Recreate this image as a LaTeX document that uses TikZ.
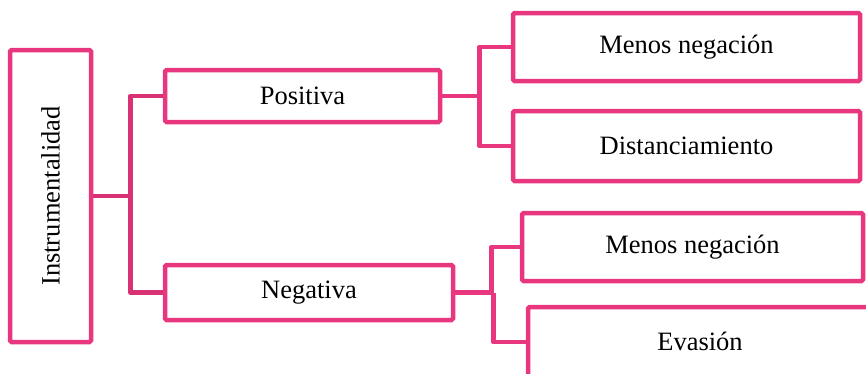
\documentclass[tikz,border=0pt]{standalone}
\usepackage{fontspec}
\usepackage{graphicx}
\setmainfont{Liberation Serif}
\definecolor{pinkbox}{HTML}{E8377F}
\definecolor{pinkline}{HTML}{D93274}
\tikzset{
  box/.style={draw=pinkbox, line width=4.5pt, rounded corners=1.5pt, fill=white,
    inner sep=0pt, font=\fontsize{26.5}{30}\selectfont},
  conn/.style={draw=pinkline, line width=4.5pt, line join=round},
  conn2/.style={draw=pinkbox, line width=4.5pt, line join=round},
  lbl/.style={inner sep=0pt, font=\fontsize{26.5}{30}\selectfont}
}
\begin{document}
\begin{tikzpicture}[x=1pt,y=-1pt]
\useasboundingbox (0,0) rectangle (866,373);
\clip (0,0) rectangle (866,373);
\node[box, minimum width=81pt, minimum height=292pt] (inst) at (50.5,196) {\rotatebox{90}{Instrumentalidad}};
\node[box, minimum width=275pt, minimum height=52pt] (pos) at (302.5,96) {Positiva};
\node[box, minimum width=288pt, minimum height=55pt] (neg) at (309,292.5) {Negativa};
\node[box, minimum width=347pt, minimum height=68pt] (mn1) at (686.5,47) {Menos negación};
\node[box, minimum width=347pt, minimum height=70pt] (dist) at (686.5,146) {Distanciamiento};
\node[box, minimum width=341pt, minimum height=68pt] (mn2) at (692.5,247) {Menos negación};
\node[box, minimum width=372pt, minimum height=93pt] (eva) at (714,353.5) {};
\node[lbl] (evat) at (700,341) {Evasión};
\coordinate (ea) at (528,342);
% connectors
\draw[conn] (inst.east) -- ++(37,0) coordinate (j1);
\draw[conn] (pos.west) -| (j1) |- (neg.west);
\draw[conn2] (pos.east) -- ++(37,0) coordinate (j2);
\draw[conn2] (mn1.west) -| (j2) |- (dist.west);
\draw[conn2] (neg.east) -- ++(36,0) coordinate (j3);
\draw[conn2] (mn2.west) -| (j3);
\draw[conn2] (j3) ++(2,0) |- (ea);
\end{tikzpicture}
\end{document}
